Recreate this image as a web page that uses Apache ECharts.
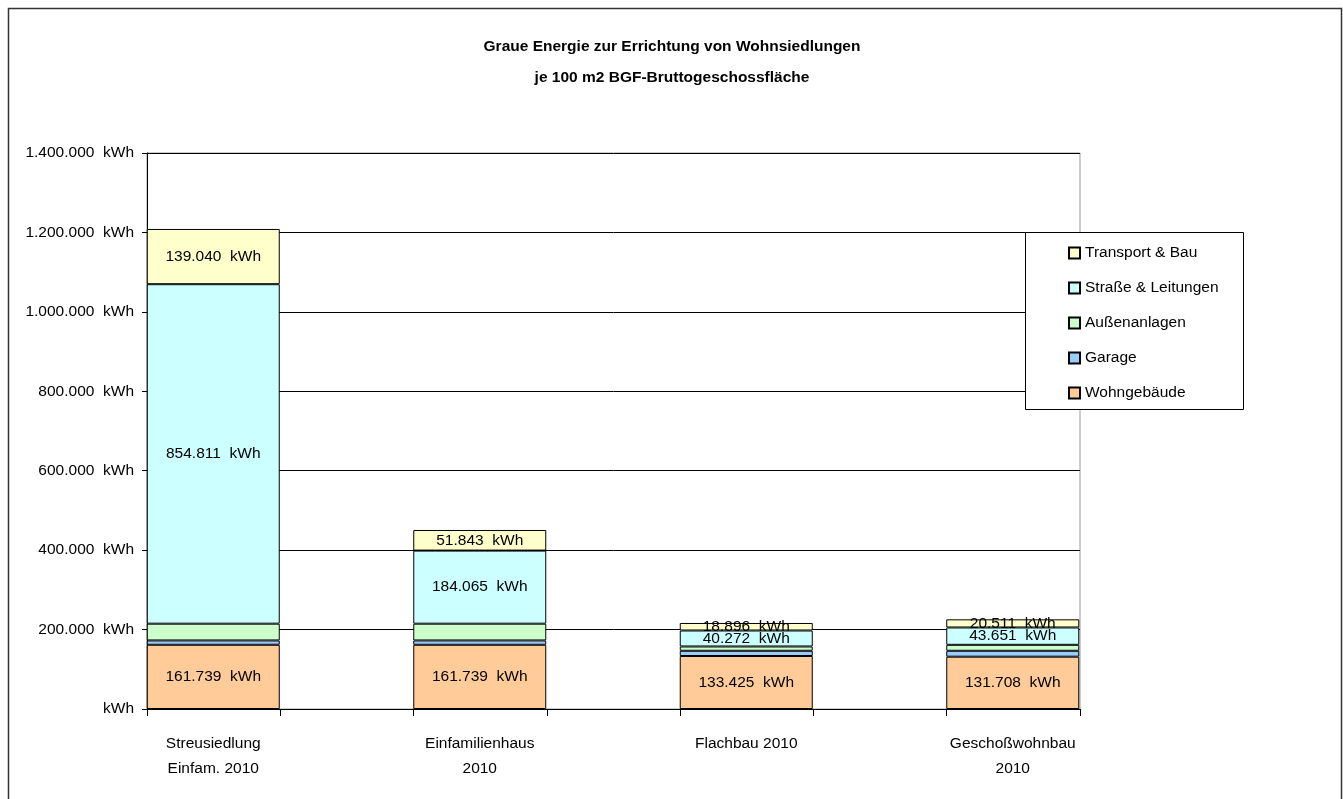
<!DOCTYPE html>
<html>
<head>
<meta charset="utf-8">
<title>Graue Energie</title>
<script src="https://cdn.jsdelivr.net/npm/echarts@6/dist/echarts.min.js"></script>
<style>
  html, body { margin: 0; padding: 0; background: #fff; }
  #chart { width: 1343px; height: 799px; }
</style>
</head>
<body>
<div id="chart"></div>
<script>
// Daten (kWh je 100 m2 BGF)
var categories = ['Streusiedlung\nEinfam. 2010', 'Einfamilienhaus\n2010', 'Flachbau 2010', 'Geschoßwohnbau\n2010']
var wohngebaeude = [161739, 161739, 133425, 131708]
var garage = [10900, 10900, 13200, 14900]
var aussenanlagen = [42200, 42200, 10800, 15000]
var strasse = [854811, 184065, 40272, 43651]
var transport = [139040, 51843, 18896, 20511]
var yTicks = [0, 200000, 400000, 600000, 800000, 1000000, 1200000, 1400000]

var FONT = "'Liberation Sans', Arial, sans-serif"
var FS = 15.5

function fmt (v) {
  // deutsches Tausendertrennzeichen
  return String(v).replace(/\B(?=(\d{3})+(?!\d))/g, '.')
}

function serie (name, data, color, showLabel) {
  return {
    name: name,
    type: 'bar',
    stack: 'gesamt',
    xAxisIndex: 1,
    yAxisIndex: 1,
    barWidth: 133,
    data: data,
    itemStyle: { color: color, borderColor: '#000', borderWidth: 1 },
    label: {
      show: showLabel,
      position: 'inside',
      color: '#000',
      fontFamily: FONT,
      fontSize: FS,
      formatter: function (p) { return fmt(p.value) + '  kWh' }
    },
    emphasis: { disabled: true }
  }
}

const myChart = echarts.init(document.getElementById('chart'))
var option = {
  animation: false,
  title: {
    text: 'Graue Energie zur Errichtung von Wohnsiedlungen\nje 100 m2 BGF-Bruttogeschossfläche',
    left: 667,
    textAlign: 'center',
    top: 26,
    textStyle: { fontFamily: FONT, fontSize: FS, fontWeight: 'bold', color: '#000', lineHeight: 31 }
  },
  legend: {
    orient: 'vertical',
    left: 1063,
    top: 240,
    itemWidth: 11,
    itemHeight: 11,
    itemGap: 19,
    icon: 'rect',
    data: ['Transport & Bau', 'Straße & Leitungen', 'Außenanlagen', 'Garage', 'Wohngebäude'],
    textStyle: { fontFamily: FONT, fontSize: FS, color: '#000' }
  },
  grid: [
    { left: 147, right: 263, top: 153, bottom: 90, show: true, borderColor: '#999', borderWidth: 1 },
    { left: 80, right: 197, top: 153, bottom: 90 }
  ],
  xAxis: [
    {
      type: 'category',
      gridIndex: 0,
      data: ['', '', '', '', '', '', ''],
      axisLine: { lineStyle: { color: '#000', width: 1 } },
      axisTick: { show: true, length: 7, lineStyle: { color: '#000' } },
      axisLabel: { show: false }
    },
    {
      type: 'category',
      gridIndex: 1,
      data: categories,
      axisLine: { show: false },
      axisTick: { show: false },
      axisLabel: { color: '#000', fontFamily: FONT, fontSize: FS, lineHeight: 25, margin: 22 }
    }
  ],
  yAxis: [
    {
      type: 'value',
      gridIndex: 0,
      min: yTicks[0],
      max: yTicks[yTicks.length - 1],
      interval: 200000,
      axisLine: { show: true, lineStyle: { color: '#000' } },
      axisTick: { show: true, length: 5, lineStyle: { color: '#000' } },
      splitLine: { lineStyle: { color: '#000', width: 1 } },
      axisLabel: {
        color: '#000',
        fontFamily: FONT,
        fontSize: FS,
        margin: 13,
        formatter: function (v) { return v === 0 ? 'kWh' : fmt(v) + '  kWh' }
      }
    },
    {
      type: 'value',
      gridIndex: 1,
      min: yTicks[0],
      max: yTicks[yTicks.length - 1],
      show: false,
      splitLine: { show: false }
    }
  ],
  graphic: [
    { type: 'rect', left: 6, top: 6, shape: { width: 1333, height: 800 }, style: { fill: 'none', stroke: '#333', lineWidth: 1.5 }, z: 100 },
    { type: 'rect', left: 1025, top: 232, shape: { width: 218, height: 177 }, style: { fill: '#fff', stroke: '#000', lineWidth: 1 }, z: 1 }
  ],
  series: [
    serie('Wohngebäude', wohngebaeude, '#FFCC99', true),
    serie('Garage', garage, '#99CCFF', false),
    serie('Außenanlagen', aussenanlagen, '#CCFFCC', false),
    serie('Straße & Leitungen', strasse, '#CCFFFF', true),
    serie('Transport & Bau', transport, '#FFFFCC', true)
  ]
}
myChart.setOption(option)
</script>
</body>
</html>
